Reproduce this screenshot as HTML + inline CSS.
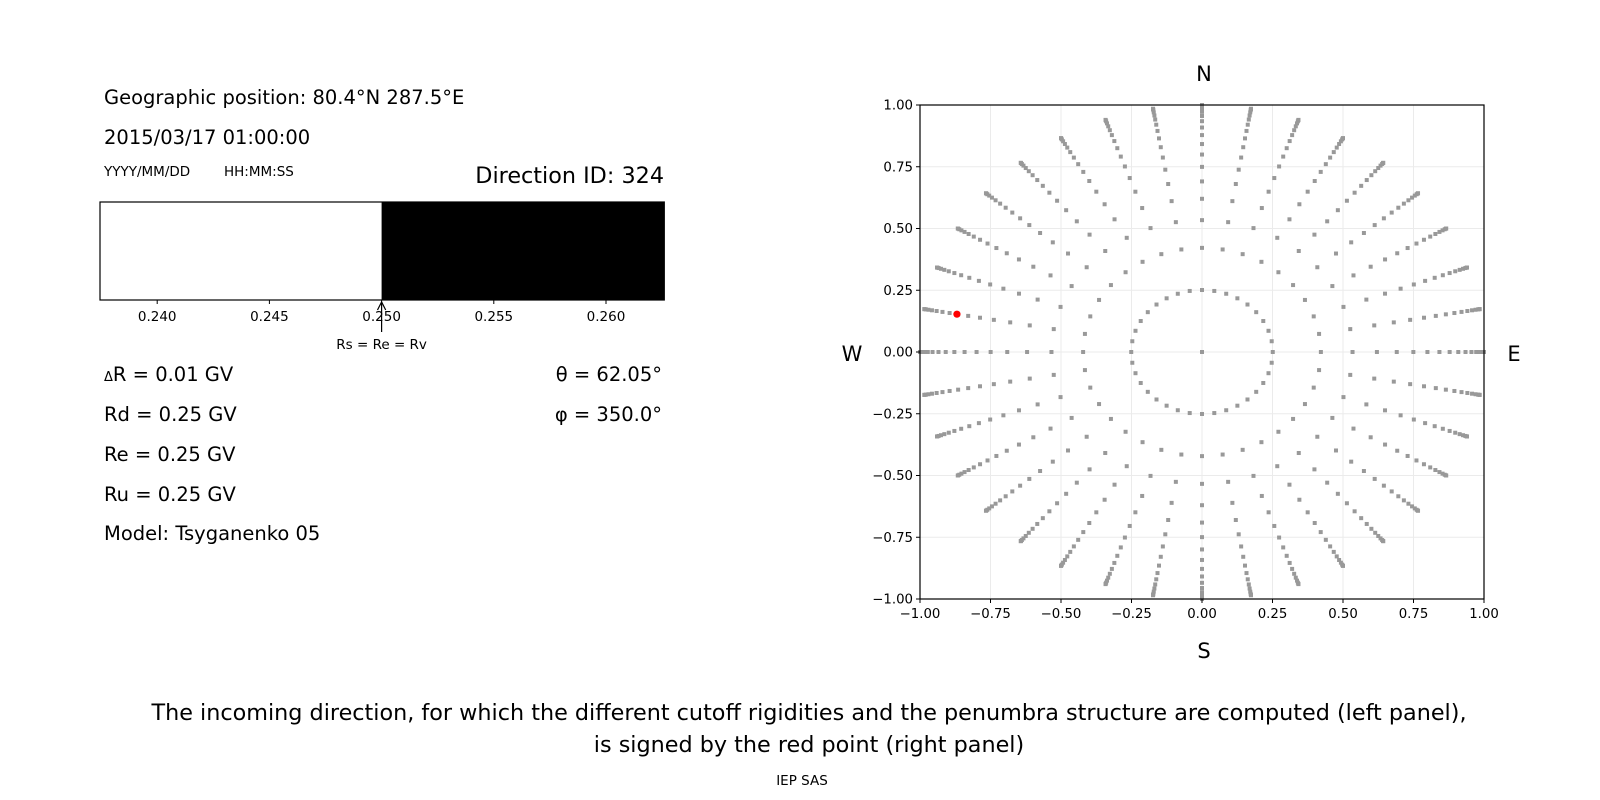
<!DOCTYPE html>
<html><head><meta charset="utf-8"><style>
html,body{margin:0;padding:0;background:#fff;}
body{width:1600px;height:800px;position:relative;overflow:hidden;font-family:"DejaVu Sans","Liberation Sans",sans-serif;color:#000;}
.t{position:absolute;white-space:nowrap;}
</style></head><body>
<div class="t" style="left:104px;top:86px;font-size:19.5px;">Geographic position: 80.4°N 287.5°E</div>
<div class="t" style="left:104px;top:126px;font-size:19.5px;">2015/03/17 01:00:00</div>
<div class="t" style="left:104px;top:164px;font-size:13.5px;">YYYY/MM/DD</div>
<div class="t" style="left:224px;top:164px;font-size:13.5px;">HH:MM:SS</div>
<div class="t" style="right:936px;top:163px;font-size:22.3px;">Direction ID: 324</div>
<div class="t" style="left:104px;top:363px;font-size:19.5px;"><span style="font-size:13px">Δ</span>R = 0.01 GV</div>
<div class="t" style="left:104px;top:403px;font-size:19.5px;">Rd = 0.25 GV</div>
<div class="t" style="left:104px;top:443px;font-size:19.5px;">Re = 0.25 GV</div>
<div class="t" style="left:104px;top:483px;font-size:19.5px;">Ru = 0.25 GV</div>
<div class="t" style="left:104px;top:522px;font-size:19.5px;">Model: Tsyganenko 05</div>
<div class="t" style="right:938px;top:363px;font-size:19.5px;">θ = 62.05°</div>
<div class="t" style="right:938px;top:403px;font-size:19.5px;">φ = 350.0°</div>
<div class="t" style="left:0;width:1618px;text-align:center;top:700px;font-size:22.3px;">The incoming direction, for which the different cutoff rigidities and the penumbra structure are computed (left panel),</div>
<div class="t" style="left:0;width:1618px;text-align:center;top:732px;font-size:22.3px;">is signed by the red point (right panel)</div>
<div class="t" style="left:0;width:1604px;text-align:center;top:773px;font-size:13.5px;">IEP SAS</div>
<svg width="1600" height="800" style="position:absolute;left:0;top:0" id="s" font-family="DejaVu Sans, Liberation Sans, sans-serif">
<rect x="100" y="202" width="281.6" height="98" fill="#fff"/>
<rect x="381.6" y="202" width="282.7" height="98" fill="#000"/>
<rect x="100" y="202" width="564.3" height="98" fill="none" stroke="#000" stroke-width="1.2"/>
<g font-size="13.5" text-anchor="middle">
<line x1="157.2" y1="300" x2="157.2" y2="304" stroke="#000"/><text x="157.2" y="321">0.240</text>
<line x1="269.4" y1="300" x2="269.4" y2="304" stroke="#000"/><text x="269.4" y="321">0.245</text>
<line x1="381.6" y1="300" x2="381.6" y2="304" stroke="#000"/><text x="381.6" y="321">0.250</text>
<line x1="493.8" y1="300" x2="493.8" y2="304" stroke="#000"/><text x="493.8" y="321">0.255</text>
<line x1="606" y1="300" x2="606" y2="304" stroke="#000"/><text x="606" y="321">0.260</text>
<text x="381.6" y="349">Rs = Re = Rv</text>
</g>
<line x1="381.6" y1="332" x2="381.6" y2="302" stroke="#000" stroke-width="1.2"/>
<path d="M377.5,310 L381.6,302 L385.7,310" fill="none" stroke="#000" stroke-width="1.2"/>
<g id="grid"></g><g id="dots"></g>
<rect x="920" y="105" width="564" height="494" fill="none" stroke="#000" stroke-width="1.2"/>
<g font-size="13.3" id="ticks"></g>
<g font-size="21" text-anchor="middle">
<text x="1204" y="81">N</text><text x="1204" y="658">S</text>
<text x="852" y="361">W</text><text x="1514" y="361">E</text>
</g>
</svg>
<script>
var NS="http://www.w3.org/2000/svg";
var x0=920,x1=1484,y0=105,y1=599,cx=(x0+x1)/2,cy=(y0+y1)/2,sx=(x1-x0)/2,sy=(y1-y0)/2;
function el(n,a,p){var e=document.createElementNS(NS,n);for(var k in a)e.setAttribute(k,a[k]);document.getElementById(p).appendChild(e);return e;}
var labs=["\u22121.00","\u22120.75","\u22120.50","\u22120.25","0.00","0.25","0.50","0.75","1.00"];
for(var i=0;i<9;i++){var v=-1+i*0.25;var X=cx+v*sx,Y=cy-v*sy;
el("line",{x1:X,y1:y0,x2:X,y2:y1,stroke:"#ebebeb","stroke-width":1},"grid");
el("line",{x1:x0,y1:Y,x2:x1,y2:Y,stroke:"#ebebeb","stroke-width":1},"grid");
el("line",{x1:X,y1:y1,x2:X,y2:y1+4,stroke:"#000"},"ticks");
el("line",{x1:x0-4,y1:Y,x2:x0,y2:Y,stroke:"#000"},"ticks");
var t=el("text",{x:X,y:y1+19,"text-anchor":"middle"},"ticks");t.textContent=labs[i];
var t2=el("text",{x:x0-7,y:Y+4.5,"text-anchor":"end"},"ticks");t2.textContent=labs[i];}
function dot(x,y,c,s){el("rect",{x:cx+x*sx-s/2,y:cy-y*sy-s/2,width:s,height:s,fill:c},"dots");}
dot(0,0,"#999",4);
for(var a=0;a<36;a++){var ph=a*10*Math.PI/180;
for(var k=0;k<=16;k++){var c=0.968-0.0612*k;if(k==16)c=0;var r=Math.sqrt(1-c*c);
dot(r*Math.sin(ph),r*Math.cos(ph),"#999",4);}}
el("circle",{cx:cx-0.869*sx,cy:cy-0.153*sy,r:3.6,fill:"#f00"},"dots");
</script>
</body></html>
